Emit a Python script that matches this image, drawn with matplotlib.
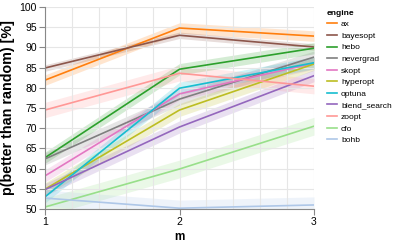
"""Recreate the p(better than random) vs m line chart with confidence bands."""
import matplotlib
matplotlib.use("Agg")
import matplotlib.pyplot as plt
import numpy as np

plt.rcParams.update({"font.family": ["Liberation Sans", "DejaVu Sans"]})

M = [1, 2, 3]
ENGINES = ["ax", "bayesopt", "hebo", "nevergrad", "skopt", "hyperopt",
           "optuna", "blend_search", "zoopt", "cfo", "bohb"]
COLORS = ["#ff7f0e", "#8c564b", "#2ca02c", "#7f7f7f", "#e377c2", "#bcbd22",
          "#17becf", "#9467bd", "#ff9896", "#98df8a", "#aec7e8"]

ax_vals = [81.9, 94.8, 92.8]
bayesopt = [84.9, 93.0, 90.1]
hebo = [62.7, 84.6, 89.8]
nevergrad = [62.4, 77.2, 87.6]
skopt = [58.2, 78.5, 86.1]
hyperopt = [54.9, 74.5, 85.9]
optuna = [53.0, 79.9, 86.2]
blend_search = [54.8, 70.3, 83.0]
zoopt = [74.5, 83.6, 80.4]
cfo = [50.5, 59.9, 70.5]
bohb = [52.7, 50.2, 51.0]
VALUES = [ax_vals, bayesopt, hebo, nevergrad, skopt, hyperopt,
          optuna, blend_search, zoopt, cfo, bohb]
# half-width of the shaded confidence band
BAND = [1.3, 0.8, 1.4, 1.5, 1.5, 1.6, 1.5, 1.5, 1.9, 2.2, 2.0]

fig = plt.figure(figsize=(3.95, 2.46), dpi=100)
ax = fig.add_axes([45 / 395, 1 - 209 / 246, 269 / 395, 202 / 246])

for name, vals, col, hw in zip(ENGINES, VALUES, COLORS, BAND):
    v = np.array(vals)
    ax.fill_between(M, v - hw, v + hw, color=col, alpha=0.2, lw=0)
    ax.plot(M, v, color=col, lw=1.2, label=name)

ax.set_xlim(1, 3); ax.set_ylim(50, 100)
ax.set_xticks([1, 2, 3]); ax.set_xticks(np.arange(1, 3.01, 0.2), minor=True)
ax.set_yticks(np.arange(50, 101, 5))
ax.grid(True, which="both", color="#e6e6e6", lw=0.8)
ax.tick_params(which="minor", length=0)
ax.tick_params(which="major", length=4, color="#888888", labelsize=7.5, pad=2)
for s in ["top", "right"]:
    ax.spines[s].set_visible(False)
for s in ["left", "bottom"]:
    ax.spines[s].set_color("#888888")
ax.set_xlabel("m", fontsize=8.5, fontweight="bold")
ax.set_ylabel("p(better than random) [%]", fontsize=10.3, fontweight="bold")
ax.xaxis.set_label_coords(0.5, -0.108)
ax.yaxis.set_label_coords(-0.113, 0.5)

leg = ax.legend(loc="upper left", bbox_to_anchor=(1.035, 1.003), frameon=False,
                fontsize=6, title="engine", handlelength=1.2, handletextpad=0.5,
                labelspacing=0.45, alignment="left", borderaxespad=0)
leg.get_title().set_fontweight("bold"); leg.get_title().set_fontsize(6)

fig.savefig("out.png", dpi=100)
